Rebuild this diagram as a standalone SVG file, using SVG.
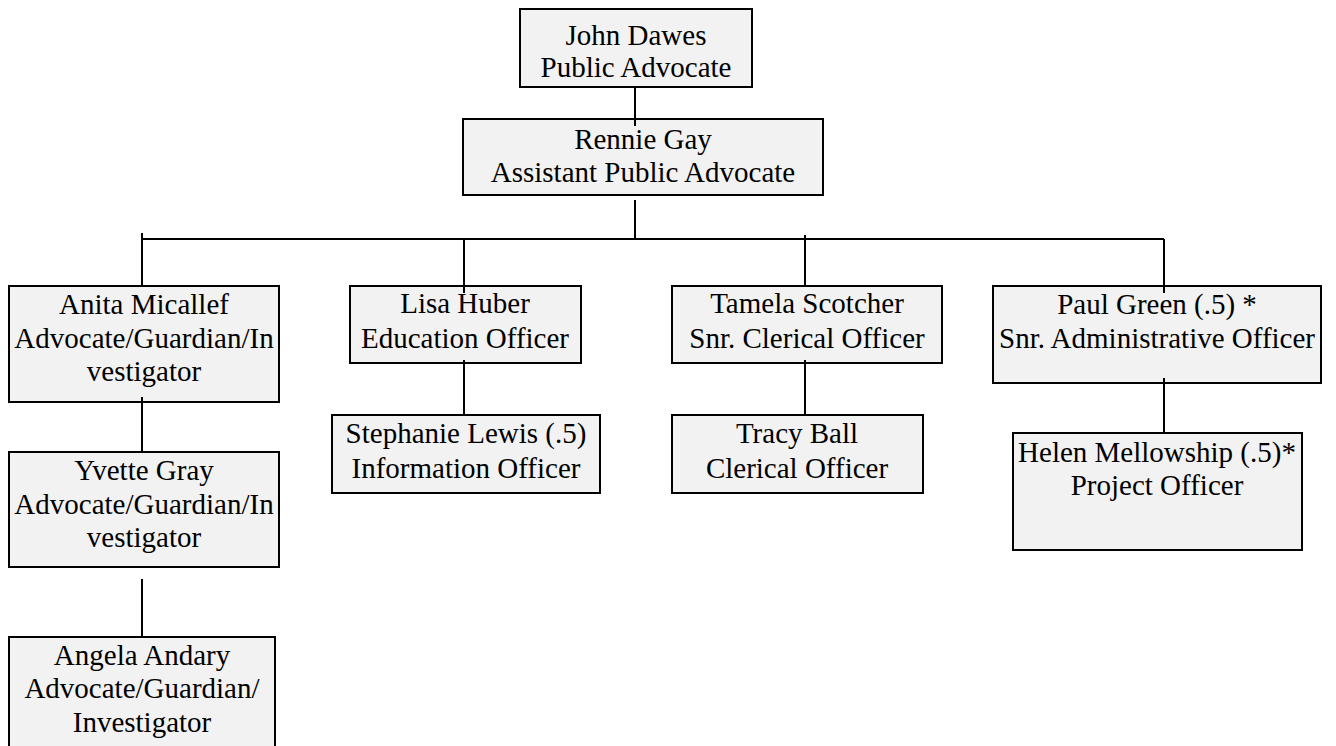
<svg xmlns="http://www.w3.org/2000/svg" width="1336" height="746" viewBox="0 0 1336 746">
<style>
.box{fill:#f2f2f2;stroke:#000;stroke-width:2}
.t{font-family:"Liberation Serif","Times New Roman",serif;font-size:29px;fill:#000;text-anchor:middle}
.c{stroke:#000;stroke-width:2;fill:none}
</style>
<rect width="1336" height="746" fill="#fff"/>
<g id="n-john"><rect class="box" x="520" y="9" width="232" height="78"/>
<text class="t" x="636" y="45">John Dawes</text><text class="t" x="636" y="77">Public Advocate</text></g>
<g id="n-rennie"><rect class="box" x="463" y="119" width="360" height="76"/>
<text class="t" x="643" y="149">Rennie Gay</text><text class="t" x="643" y="182">Assistant Public Advocate</text></g>
<g id="n-anita"><rect class="box" x="9" y="286" width="270" height="116"/>
<text class="t" x="144" y="314">Anita Micallef</text><text class="t" x="144" y="348">Advocate/Guardian/In</text><text class="t" x="144" y="381">vestigator</text></g>
<g id="n-yvette"><rect class="box" x="9" y="452" width="270" height="115"/>
<text class="t" x="144" y="480">Yvette Gray</text><text class="t" x="144" y="514">Advocate/Guardian/In</text><text class="t" x="144" y="547">vestigator</text></g>
<g id="n-angela"><rect class="box" x="9" y="637" width="266" height="120"/>
<text class="t" x="142" y="665">Angela Andary</text><text class="t" x="142" y="698">Advocate/Guardian/</text><text class="t" x="142" y="732">Investigator</text></g>
<g id="n-lisa"><rect class="box" x="350" y="286" width="231" height="77"/>
<text class="t" x="465" y="313">Lisa Huber</text><text class="t" x="465" y="348">Education Officer</text></g>
<g id="n-stephanie"><rect class="box" x="332" y="415" width="268" height="78"/>
<text class="t" x="466" y="443">Stephanie Lewis (.5)</text><text class="t" x="466" y="478">Information Officer</text></g>
<g id="n-tamela"><rect class="box" x="672" y="286" width="270" height="77"/>
<text class="t" x="807" y="313">Tamela Scotcher</text><text class="t" x="807" y="348">Snr. Clerical Officer</text></g>
<g id="n-tracy"><rect class="box" x="672" y="415" width="251" height="78"/>
<text class="t" x="797" y="443">Tracy Ball</text><text class="t" x="797" y="478">Clerical Officer</text></g>
<g id="n-paul"><rect class="box" x="993" y="286" width="328" height="97"/>
<text class="t" x="1157" y="314">Paul Green (.5) *</text><text class="t" x="1157" y="348">Snr. Administrative Officer</text></g>
<g id="n-helen"><rect class="box" x="1013" y="433" width="289" height="117"/>
<text class="t" x="1157" y="462">Helen Mellowship (.5)*</text><text class="t" x="1157" y="495">Project Officer</text></g>
<g id="connectors">
<path class="c" d="M635 87V126"/>
<path class="c" d="M635 200V239"/>
<path class="c" d="M142 239H1164"/>
<path class="c" d="M142 233V286"/>
<path class="c" d="M464 239V293"/>
<path class="c" d="M805 235V286"/>
<path class="c" d="M1164 239V293"/>
<path class="c" d="M142 397V452"/>
<path class="c" d="M142 579V637"/>
<path class="c" d="M464 360V415"/>
<path class="c" d="M805 360V415"/>
<path class="c" d="M1164 378V433"/>
</g>
</svg>
